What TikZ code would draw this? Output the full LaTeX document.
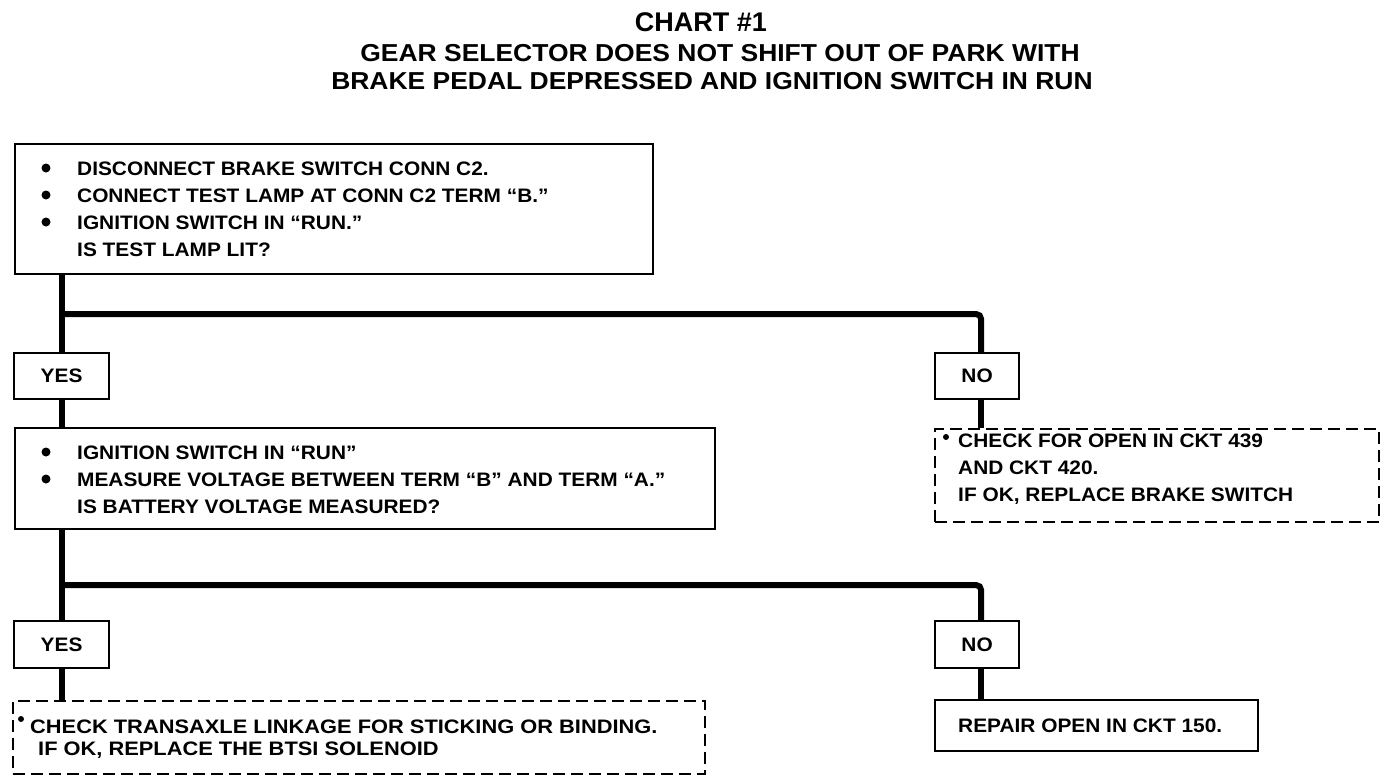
\documentclass[tikz,border=0pt]{standalone}
\usepackage{fontspec}
\setmainfont{Liberation Sans}
\newfontfamily\bodyf[FakeStretch=1.07]{Liberation Sans}
\newfontfamily\widef[FakeStretch=1.12]{Liberation Sans}
\newfontfamily\titlef[FakeStretch=1.08]{Liberation Sans}
\newfontfamily\chartf[FakeStretch=1.0]{Liberation Sans}
\begin{document}
\begin{tikzpicture}[x=1pt,y=-1pt]
\tikzset{
 box/.style={draw, line width=2.2pt, anchor=north west, inner sep=0pt},
 dbox/.style={box, dash pattern=on 12pt off 6pt},
 conn/.style={line width=6pt},
 txt/.style={anchor=base west, inner sep=0pt, font=\bodyf\bfseries\fontsize{19.5}{19.5}\selectfont},
 wtxt/.style={anchor=base west, inner sep=0pt, font=\widef\bfseries\fontsize{19.5}{19.5}\selectfont},
 ctxt/.style={anchor=center, inner sep=0pt, font=\bodyf\bfseries\fontsize{19.5}{19.5}\selectfont},
 bul/.style={fill, circle, inner sep=0pt, minimum size=9pt},
 sbul/.style={fill, circle, inner sep=0pt, minimum size=6pt},
 ttl/.style={anchor=base, inner sep=0pt, font=\chartf\bfseries\fontsize{27}{27}\selectfont},
 sub/.style={anchor=base, inner sep=0pt, font=\titlef\bfseries\fontsize{24.5}{24.5}\selectfont}
}
\useasboundingbox (0,0) rectangle (1392,782);
% titles
\node[ttl] (t0) at (701,31) {CHART \#1};
\node[sub] (t1) at (720,61) {GEAR SELECTOR DOES NOT SHIFT OUT OF PARK WITH};
\node[sub] (t2) at (712,89) {BRAKE PEDAL DEPRESSED AND IGNITION SWITCH IN RUN};
% boxes
\node[box, minimum width=638pt, minimum height=130pt] (b1) at (14,143) {};
\node[box, minimum width=95pt, minimum height=46pt] (yes1) at (13,352) {};
\node[box, minimum width=84pt, minimum height=46pt] (no1) at (934,352) {};
\node[box, minimum width=700pt, minimum height=101pt] (b2) at (14,427) {};
\node[dbox, minimum width=444pt, minimum height=93pt] (b3) at (934,428) {};
\node[box, minimum width=95pt, minimum height=47pt] (yes2) at (13,620) {};
\node[box, minimum width=84pt, minimum height=47pt] (no2) at (934,620) {};
\node[dbox, minimum width=692pt, minimum height=73pt] (b4) at (12,700) {};
\node[box, minimum width=323pt, minimum height=51pt] (b5) at (934,699) {};
% texts box 1
\node[bul] (p11) at (46,168) {};
\node[bul] (p12) at (46,195) {};
\node[bul] (p13) at (46,222) {};
\node[txt] (l11) at (77,175) {DISCONNECT BRAKE SWITCH CONN C2.};
\node[txt] (l12) at (77,202) {CONNECT TEST LAMP AT CONN C2 TERM “B.”};
\node[txt] (l13) at (77,229) {IGNITION SWITCH IN “RUN.”};
\node[txt] (l14) at (77,256) {IS TEST LAMP LIT?};
% yes/no
\node[ctxt] at (yes1.center) {YES};
\node[ctxt] at (no1.center) {NO};
\node[ctxt] at (yes2.center) {YES};
\node[ctxt] at (no2.center) {NO};
% box 2
\node[bul] (p21) at (46,452) {};
\node[bul] (p22) at (46,479) {};
\node[txt] (l21) at (77,459) {IGNITION SWITCH IN “RUN”};
\node[txt] (l22) at (77,486) {MEASURE VOLTAGE BETWEEN TERM “B” AND TERM “A.”};
\node[txt] (l23) at (77,513) {IS BATTERY VOLTAGE MEASURED?};
% box 3
\node[sbul] (p31) at (946,437) {};
\node[txt] (l31) at (958,447) {CHECK FOR OPEN IN CKT 439};
\node[txt] (l32) at (958,474) {AND CKT 420.};
\node[txt] (l33) at (958,501) {IF OK, REPLACE BRAKE SWITCH};
% box 4
\node[sbul] (p41) at (21,719) {};
\node[wtxt] (l41) at (30,733) {CHECK TRANSAXLE LINKAGE FOR STICKING OR BINDING.};
\node[wtxt] (l42) at (38,755) {IF OK, REPLACE THE BTSI SOLENOID};
% box 5
\node[txt] (l51) at (958,732) {REPAIR OPEN IN CKT 150.};
% connectors
\coordinate (j1) at (yes1.north |- 0,314);
\coordinate (j2) at (yes2.north |- 0,585);
\draw[conn] (b1.south -| yes1.north) -- (yes1.north);
\draw[conn, rounded corners=5pt] (j1) -| ([xshift=4pt]no1.north);
\draw[conn] (yes1.south) -- (b2.north -| yes1.south);
\draw[conn] ([xshift=4pt]no1.south) -- ([xshift=4pt]b3.north -| no1.south);
\draw[conn] (b2.south -| yes2.north) -- (yes2.north);
\draw[conn, rounded corners=5pt] (j2) -| ([xshift=4pt]no2.north);
\draw[conn] (yes2.south) -- (b4.north -| yes2.south);
\draw[conn] ([xshift=4pt]no2.south) -- ([xshift=4pt]b5.north -| no2.south);
\end{tikzpicture}
\end{document}
